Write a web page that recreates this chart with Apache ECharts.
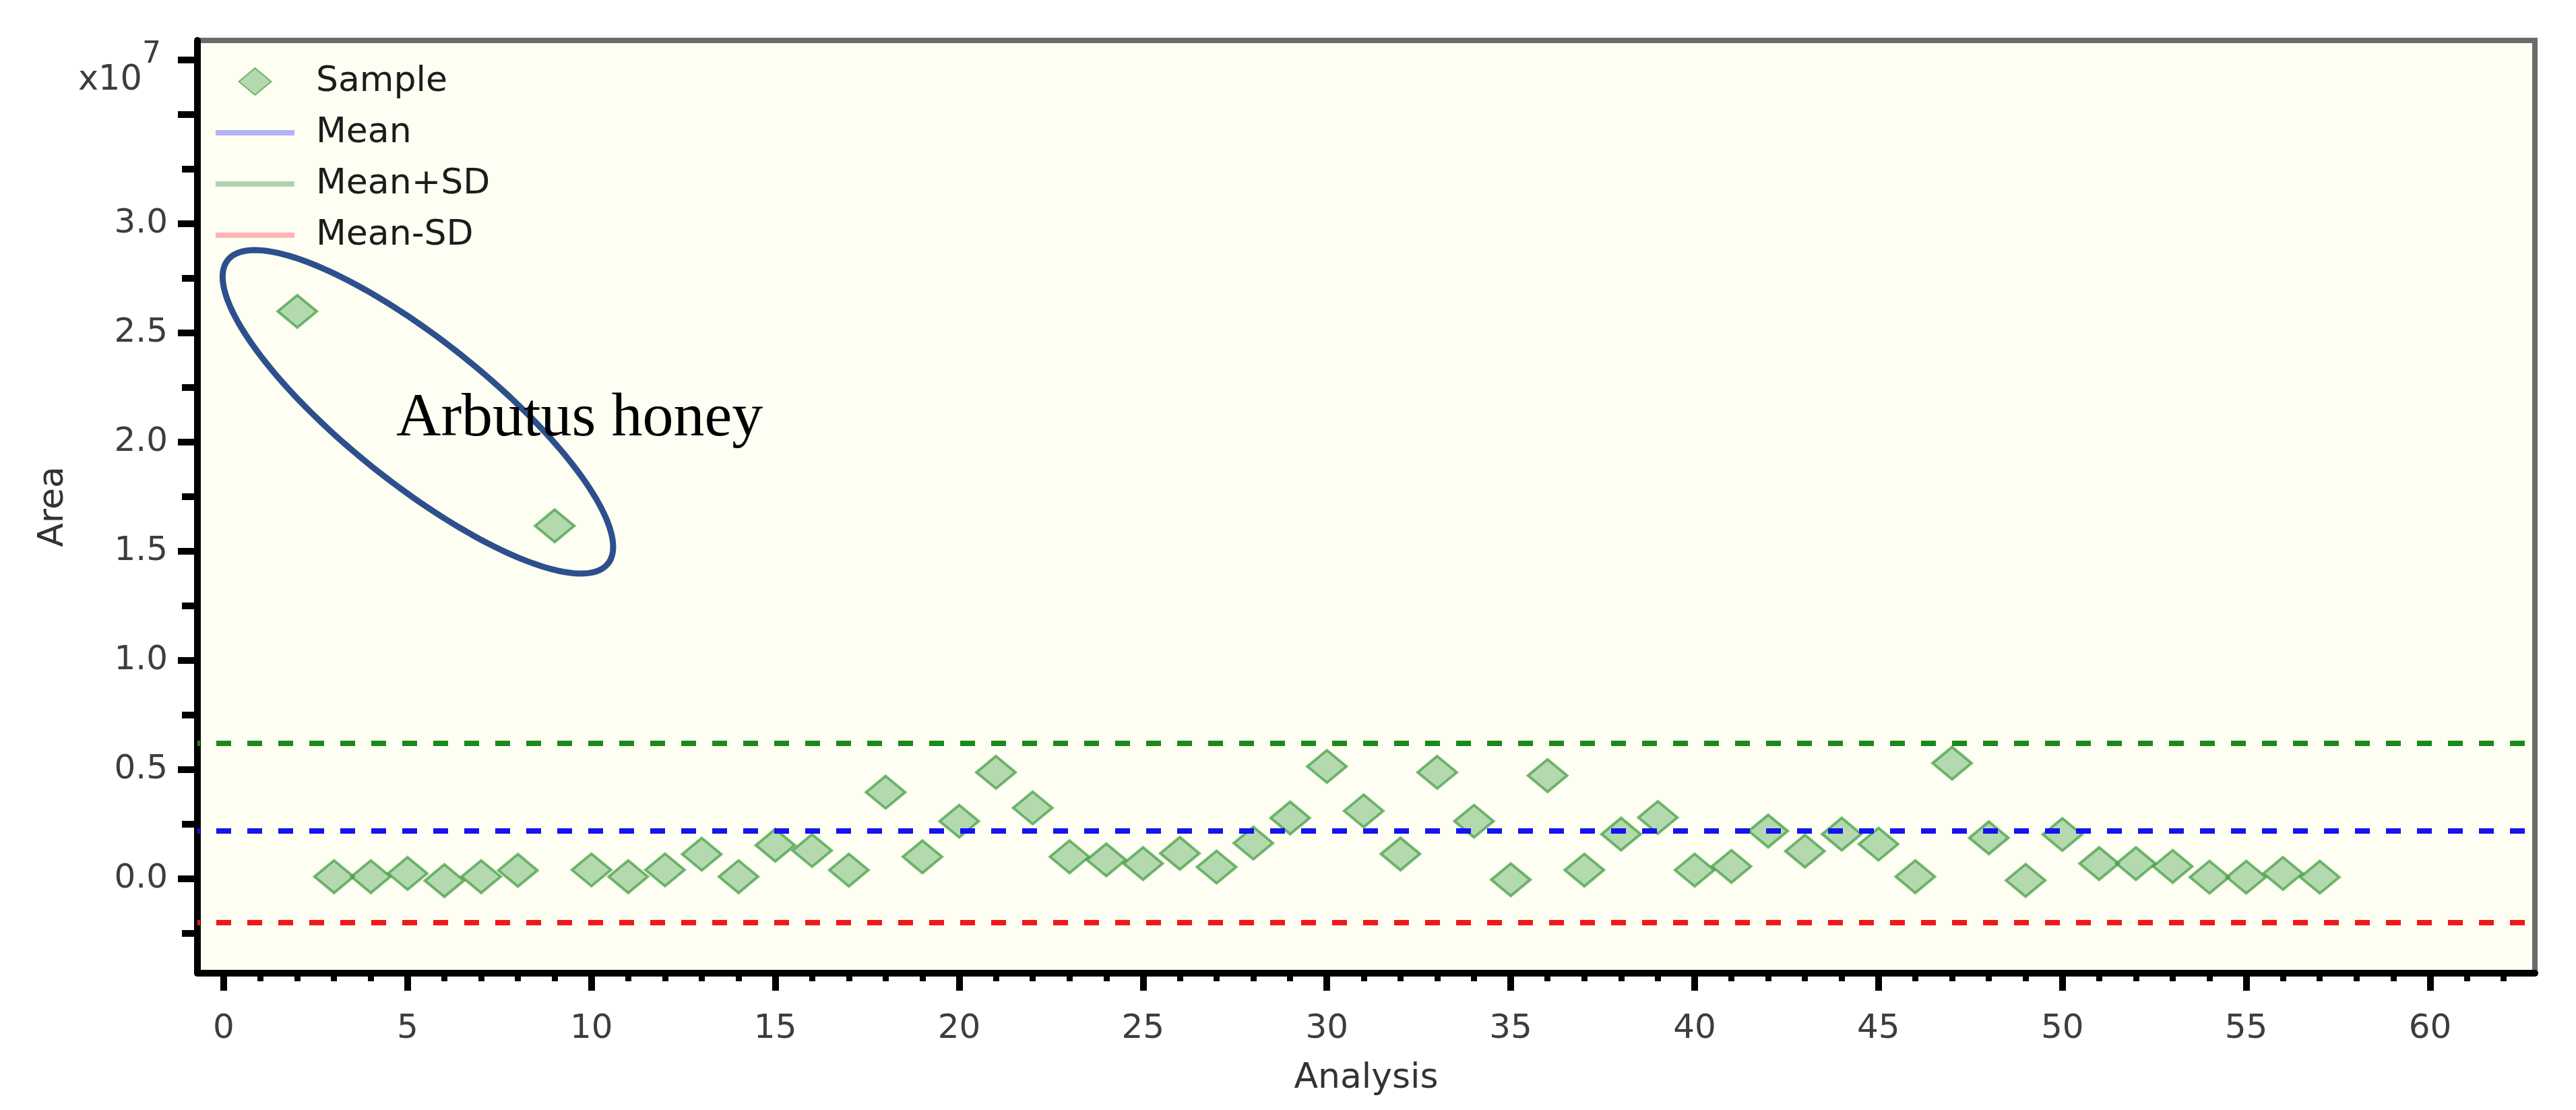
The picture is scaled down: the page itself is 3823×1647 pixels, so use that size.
<!DOCTYPE html>
<html>
<head>
<meta charset="utf-8">
<script src="https://cdn.jsdelivr.net/npm/echarts@6/dist/echarts.min.js"></script>
<style>
html,body{margin:0;padding:0;background:#ffffff;}
#chart{width:3823px;height:1647px;}
</style>
</head>
<body>
<div id="chart"></div>
<script>
// ---------------- DATA ----------------
const analysis = [2,3,4,5,6,7,8,9,10,11,12,13,14,15,16,17,18,19,20,21,22,23,24,25,26,27,28,29,30,
  31,32,33,34,35,36,37,38,39,40,41,42,43,44,45,46,47,48,49,50,51,52,53,54,55,56,57];
// Area, in units of 10^7
const areaE7 = [2.599,0.010,0.010,0.025,-0.008,0.010,0.039,1.617,0.041,0.010,0.041,0.113,0.010,0.154,0.130,0.040,
  0.397,0.101,0.264,0.488,0.325,0.101,0.087,0.070,0.117,0.054,0.164,0.279,0.515,0.311,0.114,0.488,
  0.264,-0.004,0.473,0.040,0.205,0.281,0.040,0.057,0.219,0.127,0.205,0.159,0.010,0.530,0.188,-0.007,
  0.203,0.070,0.070,0.057,0.008,0.008,0.025,0.008];
const meanValue = [0.219];
const meanPlusSD = [0.620];
const meanMinusSD = [-0.198];

const xMajorTicks = [0,5,10,15,20,25,30,35,40,45,50,55,60];
const xMinorTicks = [0,1,2,3,4,5,6,7,8,9,10,11,12,13,14,15,16,17,18,19,20,21,22,23,24,25,26,27,28,29,30,
  31,32,33,34,35,36,37,38,39,40,41,42,43,44,45,46,47,48,49,50,51,52,53,54,55,56,57,58,59,60,61,62];
const yLabelValues = [0,0.5,1.0,1.5,2.0,2.5,3.0,3.75];
const yMajorTicks = [0,0.5,1.0,1.5,2.0,2.5,3.0,3.5,3.75];
const yMinorTicks = [-0.25,0.25,0.75,1.25,1.75,2.25,2.75,3.25];
const xExtent = [-0.715, 62.85];
const yExtent = [-0.432, 3.84];

// annotation anchors (data units)
const ellipseCenter = [5.28, 2.139];
const noteAnchor = [4.69, 2.105];
const noteText = 'Arbutus honey';

// ---------------- STYLE ----------------
const FONT = '"DejaVu Sans", "Open Sans", sans-serif';
const gridRect = {left: 293, right: 61, top: 60, bottom: 203};
const ELLIPSE = {rx: 361, ry: 106, angleDeg: 38.6, color: '#2d508c', width: 9};

const chart = echarts.init(document.getElementById('chart'), null, {renderer: 'canvas'});

function refLine(name, values, legendColor, color) {
  return {
    name: name, type: 'line', data: [], symbol: 'none', z: 4,
    lineStyle: {color: legendColor, width: 8},
    itemStyle: {color: legendColor},
    markLine: {
      silent: true, symbol: ['none', 'none'], label: {show: false},
      lineStyle: {color: color, width: 8, type: [22, 24], dashOffset: 18},
      emphasis: {disabled: true},
      data: values.map(v => ({yAxis: v}))
    }
  };
}

const option = {
  animation: false,
  backgroundColor: '#ffffff',
  grid: [
    Object.assign({show: true, backgroundColor: '#fefef3', borderColor: '#6b6b6b', borderWidth: 8}, gridRect),
    Object.assign({show: false}, gridRect)
  ],
  legend: {
    orient: 'vertical', left: 320, top: 95, padding: 0,
    itemWidth: 117, itemHeight: 40, itemGap: 24, selectedMode: false,
    textStyle: {fontSize: 52, color: '#1c1c1c', fontFamily: FONT, lineHeight: 44, padding: [0, 0, 0, 27]},
    data: [
      {name: 'Sample', icon: 'path://M0,5L6,0L12,5L6,10Z'},
      {name: 'Mean', icon: 'path://M0,0L117,0L117,8L0,8Z', itemStyle: {color: '#b3b3f6', borderWidth: 0}},
      {name: 'Mean+SD', icon: 'path://M0,0L117,0L117,8L0,8Z', itemStyle: {color: '#acd4ac', borderWidth: 0}},
      {name: 'Mean-SD', icon: 'path://M0,0L117,0L117,8L0,8Z', itemStyle: {color: '#ffb5b5', borderWidth: 0}}
    ]
  },
  xAxis: [
    {
      type: 'value', gridIndex: 0, min: xExtent[0], max: xExtent[1],
      name: 'Analysis', nameLocation: 'middle', nameGap: 130,
      nameTextStyle: {fontSize: 52, color: '#333333', fontFamily: FONT},
      axisLine: {show: true, onZero: false, lineStyle: {color: '#000000', width: 10}},
      axisTick: {show: true, customValues: xMajorTicks, length: 26, lineStyle: {color: '#000000', width: 10}},
      axisLabel: {show: true, customValues: xMajorTicks, margin: 58, fontSize: 50, color: '#3d3d3d', fontFamily: FONT},
      splitLine: {show: false}
    },
    {
      type: 'value', gridIndex: 1, min: xExtent[0], max: xExtent[1],
      axisLine: {show: false, onZero: false},
      axisTick: {show: true, customValues: xMinorTicks, length: 12, lineStyle: {color: '#000000', width: 9}},
      axisLabel: {show: false}, splitLine: {show: false}
    }
  ],
  yAxis: [
    {
      type: 'value', gridIndex: 0, min: yExtent[0], max: yExtent[1],
      name: 'Area', nameLocation: 'middle', nameGap: 186,
      nameTextStyle: {fontSize: 52, color: '#333333', fontFamily: FONT},
      axisLine: {show: true, onZero: false, lineStyle: {color: '#000000', width: 10}},
      axisTick: {show: true, customValues: yMajorTicks, length: 29, lineStyle: {color: '#000000', width: 10}},
      axisLabel: {
        show: true, customValues: yLabelValues, margin: 44, fontSize: 50, color: '#3d3d3d', fontFamily: FONT,
        formatter: function (v) {
          if (Math.abs(v - 3.75) < 1e-6) return '{b|x10}{s|7}';
          return v.toFixed(1);
        },
        rich: {
          b: {fontSize: 51, lineHeight: 112, verticalAlign: 'bottom', color: '#3d3d3d', fontFamily: FONT},
          s: {fontSize: 44, lineHeight: 112, verticalAlign: 'top', padding: [26, 10, 0, 0], color: '#3d3d3d', fontFamily: FONT}
        }
      },
      splitLine: {show: false}
    },
    {
      type: 'value', gridIndex: 1, min: yExtent[0], max: yExtent[1],
      axisLine: {show: false, onZero: false},
      axisTick: {show: true, customValues: yMinorTicks, length: 23, lineStyle: {color: '#000000', width: 10}},
      axisLabel: {show: false}, splitLine: {show: false}
    }
  ],
  series: [
    {
      name: 'Sample', type: 'scatter', xAxisIndex: 0, yAxisIndex: 0, z: 3,
      symbol: 'diamond', symbolSize: [58, 48],
      itemStyle: {color: 'rgba(72,162,72,0.5)', borderColor: 'rgba(66,158,66,0.9)', borderWidth: 4},
      emphasis: {disabled: true},
      data: analysis.map((x, i) => [x, areaE7[i]])
    },
    refLine('Mean', meanValue, '#b3b3f6', '#1414f0'),
    refLine('Mean+SD', meanPlusSD, '#acd4ac', '#1a8a1a'),
    refLine('Mean-SD', meanMinusSD, '#ffb5b5', '#f01818')
  ]
};

chart.setOption(option);

// annotation: ellipse + label anchored in data coordinates
const c = chart.convertToPixel({gridIndex: 0}, ellipseCenter);
const a = ELLIPSE.angleDeg * Math.PI / 180;
const pts = [];
for (let i = 0; i < 360; i += 2) {
  const t = i * Math.PI / 180;
  const ex = ELLIPSE.rx * Math.cos(t), ey = ELLIPSE.ry * Math.sin(t);
  pts.push([c[0] + ex * Math.cos(a) - ey * Math.sin(a), c[1] + ex * Math.sin(a) + ey * Math.cos(a)]);
}
const tp = chart.convertToPixel({gridIndex: 0}, noteAnchor);
chart.setOption({
  graphic: [
    {type: 'polygon', silent: true, z: 20, shape: {points: pts},
     style: {fill: 'transparent', stroke: ELLIPSE.color, lineWidth: ELLIPSE.width}},
    {type: 'text', silent: true, z: 21, x: tp[0], y: tp[1],
     style: {text: noteText, fill: '#000000', font: '92px "Liberation Serif", "Times New Roman", serif',
             align: 'left', verticalAlign: 'middle'}}
  ]
});
</script>
</body>
</html>
